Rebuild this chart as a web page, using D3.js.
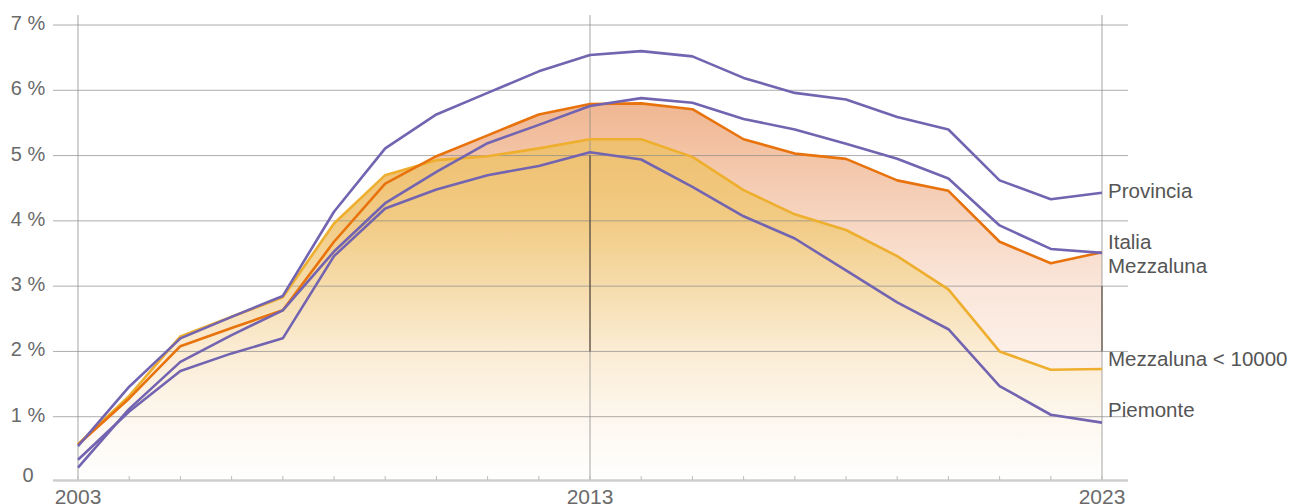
<!DOCTYPE html>
<html>
<head>
<meta charset="utf-8">
<script src="https://cdn.jsdelivr.net/npm/d3@7"></script>
<style>
  html, body { margin: 0; padding: 0; background: #fff; }
  svg { display: block; font-family: "Liberation Sans", Arial, sans-serif; }
</style>
</head>
<body>
<div id="chart"></div>
<script>
const years = d3.range(2003, 2024);
const provincia   = [0.55, 1.46, 2.20, 2.53, 2.85, 4.14, 5.11, 5.63, 5.96, 6.29, 6.54, 6.60, 6.52, 6.19, 5.96, 5.86, 5.59, 5.40, 4.62, 4.33, 4.43];
const italia      = [0.22, 1.12, 1.84, 2.25, 2.63, 3.53, 4.27, 4.75, 5.19, 5.47, 5.76, 5.88, 5.81, 5.56, 5.40, 5.18, 4.95, 4.65, 3.93, 3.57, 3.51];
const mezzaluna   = [0.57, 1.28, 2.08, 2.36, 2.63, 3.68, 4.57, 4.99, 5.31, 5.63, 5.79, 5.80, 5.71, 5.25, 5.03, 4.95, 4.62, 4.46, 3.68, 3.35, 3.52];
const mezzaSmall  = [0.58, 1.32, 2.23, 2.53, 2.83, 3.96, 4.70, 4.93, 4.99, 5.11, 5.25, 5.25, 4.98, 4.47, 4.10, 3.86, 3.46, 2.95, 2.00, 1.72, 1.73];
const piemonte    = [0.34, 1.08, 1.70, 1.97, 2.20, 3.46, 4.19, 4.48, 4.70, 4.84, 5.05, 4.94, 4.52, 4.07, 3.73, 3.24, 2.75, 2.34, 1.47, 1.03, 0.91];
const yTicks = [0, 1, 2, 3, 4, 5, 6, 7];
const xLabelYears = [2003, 2013, 2023];
// dark drop segments seen on the reference (year, from %, to %)
const drops = [[2013, 5, 2], [2023, 3, 2]];

const W = 1290, H = 504;
const x = d3.scaleLinear().domain([2003, 2023]).range([78, 1102]);
const y = d3.scaleLinear().domain([0, 7]).range([482, 25]);
const left = 53, right = 1128, axisY = 480;

const svg = d3.select("#chart").append("svg").attr("width", W).attr("height", H);
const defs = svg.append("defs");

const grad = (id, stops) => {
  const g = defs.append("linearGradient").attr("id", id)
    .attr("gradientUnits", "userSpaceOnUse")
    .attr("x1", 0).attr("x2", 0).attr("y1", y(6)).attr("y2", y(0));
  stops.forEach(([v, c]) => g.append("stop").attr("offset", (6 - v) / 6).attr("stop-color", c));
};
grad("gOrange", [[6, "#efb38c"], [4.5, "#f5cdb4"], [3, "#fae6da"], [1.5, "#fdf4ee"], [0, "#ffffff"]]);
grad("gYellow", [[6, "#edba66"], [5, "#efc274"], [4, "#f2cb84"], [3, "#f6dcac"], [2, "#fbecd4"], [1, "#fdf7ee"], [0, "#ffffff"]]);

const area = d3.area().x((d, i) => x(years[i])).y0(axisY).y1(d => y(d));
const line = d3.line().x((d, i) => x(years[i])).y(d => y(d));

svg.append("path").datum(mezzaluna).attr("d", area).attr("fill", "url(#gOrange)");
svg.append("path").datum(mezzaSmall).attr("d", area).attr("fill", "url(#gYellow)");

// horizontal grid
svg.append("g").selectAll("line").data(yTicks.filter(d => d > 0)).join("line")
  .attr("x1", left).attr("x2", right)
  .attr("y1", d => y(d)).attr("y2", d => y(d))
  .attr("stroke", "#8a8a8a").attr("stroke-opacity", 0.7).attr("stroke-width", 1);

// vertical grid at labelled years
svg.append("g").selectAll("line").data(xLabelYears).join("line")
  .attr("x1", d => x(d)).attr("x2", d => x(d))
  .attr("y1", 15).attr("y2", axisY)
  .attr("stroke", "#8a8a8a").attr("stroke-opacity", 0.75).attr("stroke-width", 1);

svg.append("g").selectAll("line").data(drops).join("line")
  .attr("x1", d => x(d[0])).attr("x2", d => x(d[0]))
  .attr("y1", d => y(d[1])).attr("y2", d => y(d[2]))
  .attr("stroke", "#4a3a2a").attr("stroke-width", 1);

// x axis
svg.append("line").attr("x1", left).attr("x2", right).attr("y1", axisY + 0.5).attr("y2", axisY + 0.5)
  .attr("stroke", "#cfcfcf").attr("stroke-width", 2.5);
svg.append("g").selectAll("line").data(years).join("line")
  .attr("x1", d => x(d)).attr("x2", d => x(d))
  .attr("y1", axisY - 4).attr("y2", axisY)
  .attr("stroke", "#bdbdbd").attr("stroke-width", 1);

svg.append("g").selectAll("text").data(xLabelYears).join("text")
  .attr("x", d => x(d)).attr("y", 504)
  .attr("text-anchor", "middle").attr("font-size", 21).attr("fill", "#6a6a6a")
  .text(d => d);

svg.append("g").selectAll("text").data(yTicks).join("text")
  .attr("x", 28).attr("y", d => d === 0 ? y(d) : y(d) + 5)
  .attr("text-anchor", "middle").attr("font-size", 20).attr("fill", "#6a6a6a")
  .text(d => d === 0 ? "0" : d + " %");

// lines
const series = [
  { v: mezzaSmall, c: "#eeae2e" },
  { v: mezzaluna, c: "#e8720c" },
  { v: piemonte, c: "#7264b0" },
  { v: italia, c: "#7264b0" },
  { v: provincia, c: "#7264b0" }
];
svg.append("g").selectAll("path").data(series).join("path")
  .attr("d", d => line(d.v)).attr("fill", "none")
  .attr("stroke", d => d.c).attr("stroke-width", 2.6).attr("stroke-linejoin", "round");

// end labels
const last = a => a[a.length - 1];
const labels = [
  { t: "Provincia", v: last(provincia), dy: 5 },
  { t: "Italia", v: last(italia), dy: -4 },
  { t: "Mezzaluna", v: last(mezzaluna), dy: 21 },
  { t: "Mezzaluna < 10000", v: last(mezzaSmall), dy: -3 },
  { t: "Piemonte", v: last(piemonte), dy: -6 }
];
svg.append("g").selectAll("text").data(labels).join("text")
  .attr("x", x(2023) + 6).attr("y", d => y(d.v) + d.dy)
  .attr("font-size", 20.5).attr("fill", "#555")
  .text(d => d.t);
</script>
</body>
</html>
